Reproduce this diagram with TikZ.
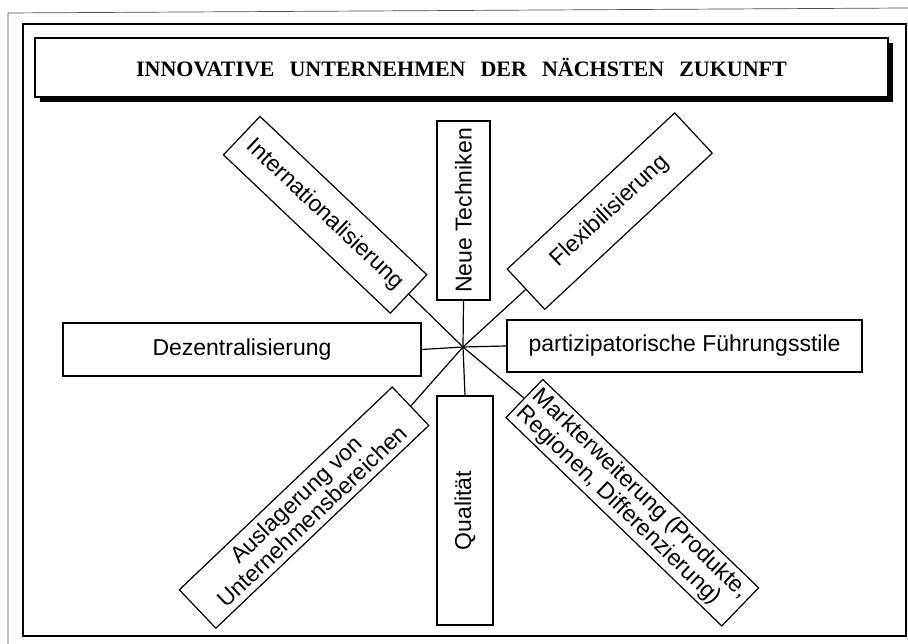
\documentclass[tikz,border=0pt]{standalone}
\usepackage{fontspec}
\setmainfont{Liberation Serif}
\setsansfont{Liberation Sans}
\usetikzlibrary{shadows}
\tikzset{
     spokebox/.style = {draw, line width=1.2pt, fill=white, font=\sffamily\fontsize{23}{23.5}\selectfont,
        minimum height=53pt, inner xsep=6pt, inner ysep=0pt},
     spokeline/.style = {line width=1.2pt},
     framebox/.style = {line width=1.6pt},
     scanedge/.style = {line width=0.7pt, black!70},
     titlebox/.style = {draw, line width=1.2pt, fill=white, minimum width=853pt, minimum height=59pt,
        font=\bfseries\fontsize{22}{24}\selectfont,
        general shadow={fill=black, shadow xshift=5pt, shadow yshift=-5pt}},
    }

\begin{document}
\begin{tikzpicture}[x=1pt,y=1pt]
        \useasboundingbox (0,0) rectangle (908,644);
        \draw[scanedge] (8,0) -- (8,631) -- (908,636);
        \draw[framebox] (23,8) rectangle (906,620);
        \node [titlebox] (title) at (461.5,576.5)
            {INNOVATIVE\hspace{15pt}UNTERNEHMEN\hspace{15pt}DER\hspace{15pt}N\"ACHSTEN\hspace{15pt}ZUKUNFT};
        \coordinate (hub) at (463,297);
        \node [spokebox, rotate=90, minimum width=179pt] (tech) at ([shift={(0.5,136.5)}]hub) {Neue Techniken};
        \node [spokebox, rotate=90, minimum width=229pt, minimum height=56pt] (qual) at ([shift={(2,-163.5)}]hub) {Qualität};
        \node [spokebox, minimum width=358pt] (dezent) at ([shift={(-221,-2.5)}]hub) {Dezentralisierung};
        \node [spokebox, minimum width=355pt, minimum height=52pt] (fuehr) at ([shift={(221.5,1)}]hub) {partizipatorische Führungsstile};
        \node [spokebox, rotate=-43.5, minimum width=230pt] (intl) at ([shift={(136.2:191)}]hub) {Internationalisierung};
        \node [spokebox, rotate=43, minimum width=229pt, minimum height=55pt] (flex) at ([shift={(42.8:200)}]hub) {Flexibilisierung};
        \node [spokebox, rotate=43.6, minimum width=294pt, align=center] (ausl) at ([shift={(225.3:226)}]hub)
            {Auslagerung von\\Unternehmensbereichen};
        \node [spokebox, rotate=-44, minimum width=300pt, align=left, inner xsep=4pt] (markt) at ([shift={(317.4:230)}]hub)
            {Markterweiterung (Produkte,\\Regionen, Differenzierung)};
        \path[spokeline]
        (hub) edge (tech.west)
        (hub) edge (qual.east)
        (hub) edge (dezent.east)
        (hub) edge (fuehr.west)
        (hub) edge (intl.east)
        (hub) edge (flex.west)
        (hub) edge (ausl.east)
        (hub) edge (markt.west);
    \end{tikzpicture}
\end{document}
